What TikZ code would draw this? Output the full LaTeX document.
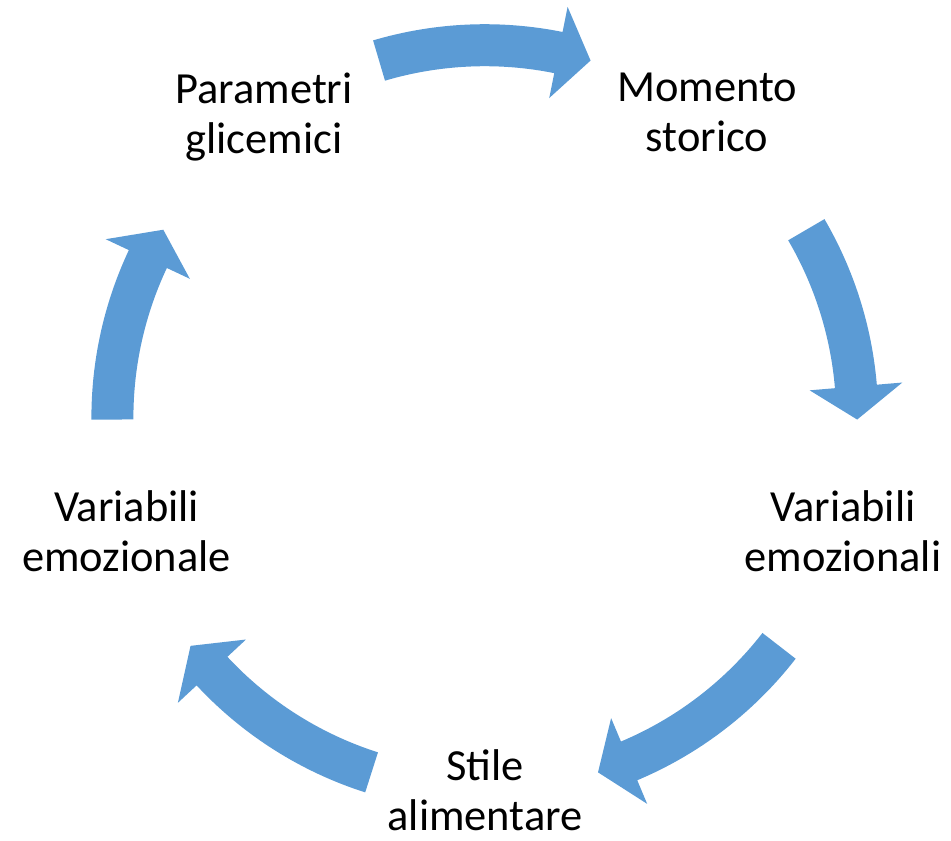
\documentclass[tikz,border=0pt]{standalone}
\usepackage{fontspec}
\setmainfont{Carlito}
\definecolor{cycleblue}{HTML}{5B9BD5}
\tikzset{
  stage/.style={align=center, inner sep=0pt, font=\fontsize{25.3}{28.5}\selectfont},
  cyclearrow/.style={fill=cycleblue}
}
\begin{document}
\begin{tikzpicture}[scale=0.02]
	\useasboundingbox (-484.8,-422.4) rectangle (466.2,417.6);
	% tail angle / tip angle of each arrow
	\def\arrows{106.5/73.5, 30.3/-0.3, -37.8/-72.3, -107.7/-142.2, 180.3/149.7}

	\foreach \a/\b in \arrows {
		\pgfmathsetmacro{\h}{\b+5.1}
		\fill[cyclearrow] (\a:393.4) arc[start angle=\a, end angle=\h, radius=393.4]
			-- (\h:419) -- (\b:372.4) -- (\h:326) -- (\h:351.4)
			arc[start angle=\h, end angle=\a, radius=351.4] -- cycle;
	}

	\node[stage] (momento) at (222.2,304.9) {Momento\\storico};
	\node[stage] (emozionali) at (358.2,-113.8) {Variabili\\emozionali};
	\node[stage] (stile) at (0.2,-372.5) {Stile\\alimentare};
	\node[stage] (emozionale) at (-358.2,-113.8) {Variabili\\emozionale};
	\node[stage] (parametri) at (-220.8,300.6) {Parametri\\glicemici};
\end{tikzpicture}
\end{document}
